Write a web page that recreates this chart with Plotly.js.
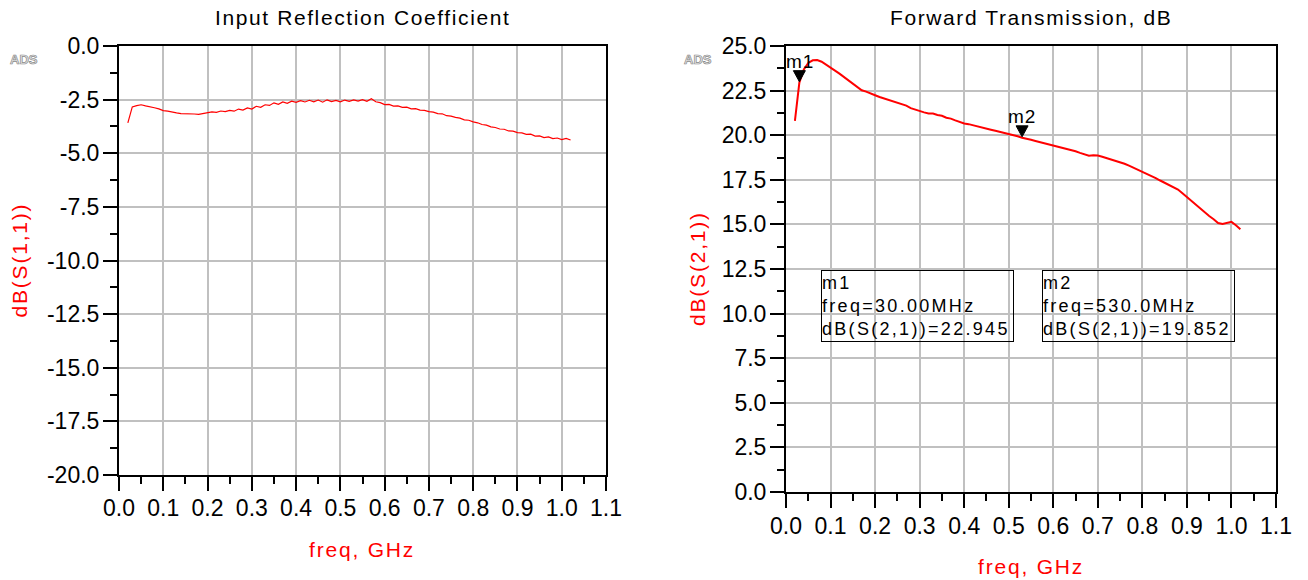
<!DOCTYPE html>
<html><head><meta charset="utf-8">
<script src="https://cdn.plot.ly/plotly-3.0.1.min.js"></script>
<style>html,body{margin:0;padding:0;background:#fff;} #chart{width:1308px;height:580px;}</style>
</head><body><div id="chart"></div>
<script>
// ---- data ----
const freqGHz = [0.02,0.03,0.04,0.05,0.06,0.07,0.08,0.09,0.10,0.11,0.12,0.13,0.14,0.15,0.16,0.17,0.18,0.19,0.20,
  0.21,0.22,0.23,0.24,0.25,0.26,0.27,0.28,0.29,0.30,0.31,0.32,0.33,0.34,0.35,0.36,0.37,0.38,0.39,0.40,
  0.41,0.42,0.43,0.44,0.45,0.46,0.47,0.48,0.49,0.50,0.51,0.52,0.53,0.54,0.55,0.56,0.57,0.58,0.59,0.60,
  0.61,0.62,0.63,0.64,0.65,0.66,0.67,0.68,0.69,0.70,0.71,0.72,0.73,0.74,0.75,0.76,0.77,0.78,0.79,0.80,
  0.81,0.82,0.83,0.84,0.85,0.86,0.87,0.88,0.89,0.90,0.91,0.92,0.93,0.94,0.95,0.96,0.97,0.98,0.99,1.00,
  1.01,1.02];
const s11dB = [-3.58,-2.84,-2.78,-2.74,-2.79,-2.82,-2.88,-2.93,-3.01,-3.04,-3.09,-3.12,-3.15,-3.15,-3.18,-3.17,-3.19,-3.14,-3.11,
  -3.07,-3.09,-3.03,-3.06,-3.00,-3.04,-2.94,-2.99,-2.89,-2.94,-2.81,-2.86,-2.74,-2.77,-2.65,-2.72,-2.61,-2.67,-2.57,-2.63,
  -2.55,-2.61,-2.53,-2.60,-2.52,-2.62,-2.51,-2.59,-2.54,-2.60,-2.52,-2.58,-2.51,-2.57,-2.50,-2.58,-2.46,-2.60,-2.64,-2.73,
  -2.72,-2.80,-2.79,-2.86,-2.85,-2.93,-2.92,-2.99,-3.00,-3.06,-3.08,-3.15,-3.16,-3.25,-3.27,-3.33,-3.36,-3.44,-3.46,-3.54,
  -3.58,-3.66,-3.69,-3.77,-3.80,-3.87,-3.88,-3.96,-3.97,-4.04,-4.05,-4.12,-4.11,-4.20,-4.19,-4.27,-4.24,-4.32,-4.29,-4.36,
  -4.31,-4.38];
const s21dB = [20.80,22.95,23.68,24.05,24.20,24.21,24.12,23.97,23.80,23.62,23.45,23.27,23.08,22.90,22.68,22.52,22.44,22.32,22.24,
  22.14,22.06,21.98,21.89,21.80,21.72,21.66,21.52,21.44,21.33,21.28,21.22,21.21,21.13,21.09,20.98,20.93,20.83,20.74,20.66,
  20.62,20.55,20.49,20.43,20.37,20.31,20.25,20.19,20.14,20.09,20.02,19.94,19.86,19.82,19.74,19.68,19.62,19.55,19.50,19.44,
  19.38,19.32,19.25,19.18,19.10,19.01,18.92,18.85,18.88,18.86,18.79,18.71,18.64,18.57,18.50,18.40,18.29,18.18,18.07,17.97,
  17.85,17.72,17.60,17.46,17.34,17.21,17.08,16.95,16.74,16.52,16.30,16.08,15.86,15.66,15.47,15.29,15.08,15.02,15.10,15.14,
  14.95,14.73];

const xTickVals = [0,0.1,0.2,0.3,0.4,0.5,0.6,0.7,0.8,0.9,1.0,1.1];
const xTickText = ['0.0','0.1','0.2','0.3','0.4','0.5','0.6','0.7','0.8','0.9','1.0','1.1'];
const y1TickVals = [0,-2.5,-5,-7.5,-10,-12.5,-15,-17.5,-20];
const y1TickText = ['0.0','-2.5','-5.0','-7.5','-10.0','-12.5','-15.0','-17.5','-20.0'];
const y2TickVals = [0,2.5,5,7.5,10,12.5,15,17.5,20,22.5,25];
const y2TickText = ['0.0','2.5','5.0','7.5','10.0','12.5','15.0','17.5','20.0','22.5','25.0'];

const markerNames = ['m1','m2'];
const markerFreq = [0.03, 0.53];
const markerVal = [22.945, 19.852];
const markerFreqText = ['30.00MHz','530.0MHz'];

const titles = ['Input Reflection Coefficient','Forward Transmission, dB'];
const yTitles = ['dB(S(1,1))','dB(S(2,1))'];
const xTitle = 'freq, GHz';

// ---- layout ----
const F = 'Liberation Sans, Arial, sans-serif';
const W = 1308, H = 580;
const px = v => v / W, py = v => (H - v) / H;

function axis(extra) {
  return Object.assign({
    showline: true, linecolor: '#000', linewidth: 2, mirror: true,
    showgrid: true, gridcolor: '#c0c0c0', gridwidth: 2, zeroline: false,
    ticks: 'outside', ticklen: 14, tickwidth: 2, tickcolor: '#000',
    tickfont: {family: F, size: 23, color: '#000'}, tickmode: 'array', fixedrange: true
  }, extra);
}
const xMinor = {tickmode: 'linear', tick0: 0, dtick: 0.05, ticks: 'outside', ticklen: 7, tickwidth: 2, tickcolor: '#000', showgrid: false};
const yMinor = {tickmode: 'linear', tick0: 0, dtick: 1.25, ticks: 'outside', ticklen: 7, tickwidth: 2, tickcolor: '#000', showgrid: false};

const dX1 = [px(119), px(606)], dX2 = [px(786), px(1276)];
const dY1 = [py(475), py(46)], dY2 = [py(492), py(46)];
const cx1 = (dX1[0] + dX1[1]) / 2, cx2 = (dX2[0] + dX2[1]) / 2;

const data = [
  {x: freqGHz, y: s11dB, xaxis: 'x', yaxis: 'y', type: 'scatter', mode: 'lines',
   line: {color: '#ff0000', width: 1.2}, hoverinfo: 'skip'},
  {x: freqGHz, y: s21dB, xaxis: 'x2', yaxis: 'y2', type: 'scatter', mode: 'lines',
   line: {color: '#ff0000', width: 2}, hoverinfo: 'skip'}
];

const ann = [];
const spacing = [];
// centred texts: compensate the extra width added by letter spacing
function addAnn(a, ls) {
  const o = Object.assign({showarrow: false, xref: 'paper', yref: 'paper', align: 'left', xanchor: 'center', yanchor: 'middle'}, a);
  if (ls && o.xanchor === 'center' && !o.width) {
    const extra = o.text.length * ls / 2;
    if (o.textangle === -90) o.yshift = (o.yshift || 0) - extra;
    else o.xshift = (o.xshift || 0) - extra;
  }
  ann.push(o);
  spacing.push(ls);
}

addAnn({x: cx1, y: py(18), text: titles[0], font: {family: F, size: 21, color: '#000'}}, 1.6);
addAnn({x: cx2, y: py(18), text: titles[1], font: {family: F, size: 21, color: '#000'}}, 1.6);
addAnn({x: cx1, y: py(549), text: xTitle, font: {family: F, size: 21, color: '#ff0000'}}, 1.8);
addAnn({x: cx2, y: py(566), text: xTitle, font: {family: F, size: 21, color: '#ff0000'}}, 1.8);
addAnn({x: px(19), y: (dY1[0] + dY1[1]) / 2, text: yTitles[0], textangle: -90, font: {family: F, size: 21, color: '#ff0000'}}, 1.8);
addAnn({x: px(697), y: (dY2[0] + dY2[1]) / 2, text: yTitles[1], textangle: -90, font: {family: F, size: 21, color: '#ff0000'}}, 1.8);
addAnn({x: px(24), y: py(59), text: '<b>ADS</b>', font: {family: F, size: 13, color: '#b8b8b8'}}, 0);
addAnn({x: px(698), y: py(59), text: '<b>ADS</b>', font: {family: F, size: 13, color: '#b8b8b8'}}, 0);

const boxLeft = [px(821), px(1042)];
for (let i = 0; i < markerNames.length; i++) {
  addAnn({xref: 'x2', yref: 'y2', x: markerFreq[i], y: markerVal[i], yshift: 21, text: markerNames[i],
          font: {family: F, size: 19, color: '#000'}}, 0.8);
  addAnn({x: boxLeft[i], y: py(269.5), xanchor: 'left', yanchor: 'top', width: 191, height: 70,
          align: 'left', valign: 'middle', bordercolor: '#000', borderwidth: 1, borderpad: 0, bgcolor: 'rgba(255,255,255,0)',
          text: markerNames[i] + '<br>freq=' + markerFreqText[i] + '<br>dB(S(2,1))=' + markerVal[i].toFixed(3),
          font: {family: F, size: 18, color: '#000'}}, 2.3);
}

const shapes = markerNames.map((m, i) => ({
  type: 'path', xref: 'x2', yref: 'y2', xsizemode: 'pixel', ysizemode: 'pixel',
  xanchor: markerFreq[i], yanchor: markerVal[i],
  path: 'M -6,12 L 6,12 L 0,1 Z', fillcolor: '#000', line: {color: '#000', width: 1}
}));

// letter spacing applied by stylesheet
let css = '';
spacing.forEach((s, i) => {
  if (s) css += 'g.annotation[data-index="' + i + '"] text.annotation-text{letter-spacing:' + s + 'px;}\n';
});
ann.forEach((a, i) => {
  if (a.text === '<b>ADS</b>') css += 'g.annotation[data-index="' + i + '"] text.annotation-text{fill:#e6e6e6 !important;stroke:#8a8a8a;stroke-width:0.7px;}\n';
});
const st = document.createElement('style'); st.textContent = css; document.head.appendChild(st);

const layout = {
  width: W, height: H, margin: {l: 0, r: 0, t: 0, b: 0},
  paper_bgcolor: '#fff', plot_bgcolor: '#fff', showlegend: false,
  font: {family: F, color: '#000'},
  xaxis: axis({domain: dX1, range: [0, 1.1], tickvals: xTickVals, ticktext: xTickText, anchor: 'y', minor: xMinor, ticklabelstandoff: -3}),
  yaxis: axis({domain: dY1, range: [-20, 0], tickvals: y1TickVals, ticktext: y1TickText, anchor: 'x', minor: yMinor, ticklabelstandoff: -1}),
  xaxis2: axis({domain: dX2, range: [0, 1.1], tickvals: xTickVals, ticktext: xTickText, anchor: 'y2', minor: xMinor, ticklabelstandoff: -2}),
  yaxis2: axis({domain: dY2, range: [0, 25], tickvals: y2TickVals, ticktext: y2TickText, anchor: 'x2', minor: yMinor, ticklabelstandoff: -1}),
  annotations: ann, shapes: shapes
};

Plotly.newPlot('chart', data, layout, {staticPlot: true, displayModeBar: false});
</script>
</body></html>
